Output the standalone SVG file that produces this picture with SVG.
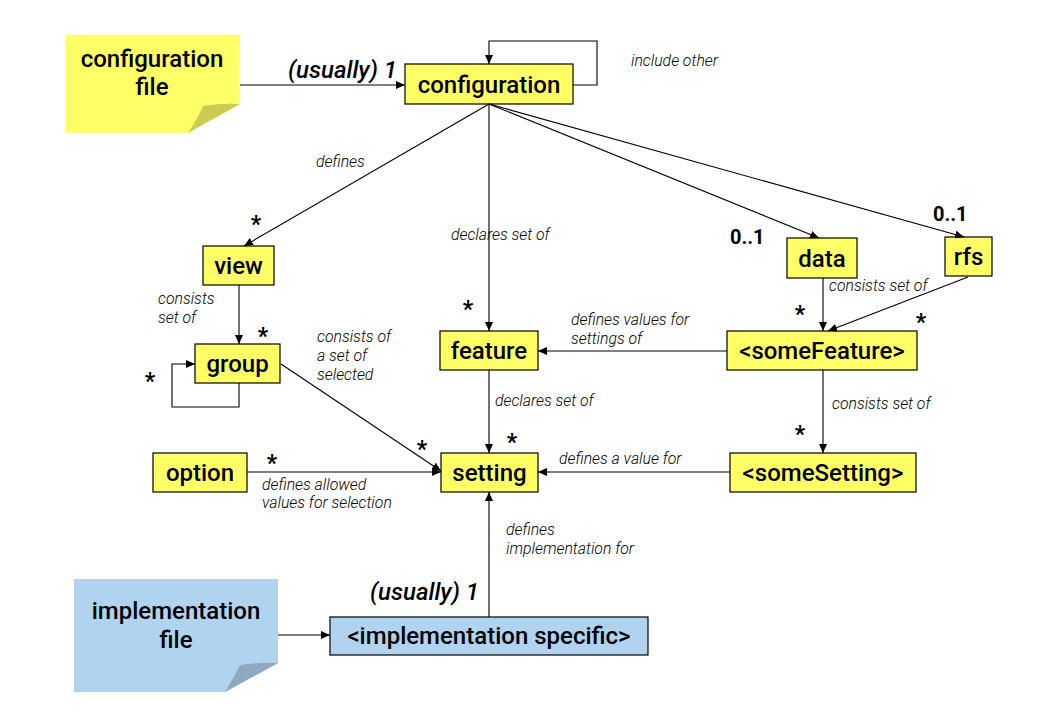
<svg xmlns="http://www.w3.org/2000/svg" width="1040" height="720" viewBox="0 0 1040 720">
<defs>
<marker id="ah" markerUnits="userSpaceOnUse" markerWidth="9" markerHeight="8" refX="9" refY="4" orient="auto">
<path d="M0,0 L9,4 L0,8 z" fill="#000"/>
</marker>
<style>
.box{stroke:#000;stroke-width:1.2}
.y{fill:#ffff66}
.b{fill:#b0d4ef}
.n{font-family:Roboto,"Liberation Sans",sans-serif;font-weight:500;font-size:24px;text-anchor:middle;fill:#000}
.lbl{font-family:Roboto,"Liberation Sans",sans-serif;font-style:italic;font-weight:300;font-size:15.8px;fill:#000}
.m{font-family:Roboto,"Liberation Sans",sans-serif;font-weight:700;font-size:20px;fill:#000}
.s{font-family:Roboto,"Liberation Sans",sans-serif;font-weight:700;font-size:23px;fill:#000;text-anchor:middle}
.u{font-family:Roboto,"Liberation Sans",sans-serif;font-style:italic;font-weight:500;font-size:24px;fill:#000;text-anchor:end}
.c{fill:none;stroke:#000;stroke-width:1.1;marker-end:url(#ah)}
</style>
</defs>
<rect width="1040" height="720" fill="#fff"/>

<g id="configuration-file">
<path d="M66,35 H240 V104 L188,133 H66 Z" fill="#ffff66"/>
<path d="M203,106 Q222,103 240,104 L188,133 Q198,118 203,106 Z" fill="#cccc55"/>
<text class="n" x="152" y="67">configuration</text>
<text class="n" x="152" y="95">file</text>
</g>

<g id="implementation-file">
<path d="M74,579 H278 V663 L225,692 H74 Z" fill="#b0d4ef"/>
<path d="M240,665 Q260,662 278,663 L225,692 Q234,677 240,665 Z" fill="#8fa9c1"/>
<text class="n" x="176" y="619">implementation</text>
<text class="n" x="176" y="648">file</text>
</g>

<g id="configuration"><rect class="box y" x="405" y="64" width="168" height="40"/><text class="n" x="489" y="93">configuration</text></g>
<g id="view"><rect class="box y" x="203" y="246" width="71" height="39"/><text class="n" x="238.5" y="274">view</text></g>
<g id="group"><rect class="box y" x="195" y="344" width="85" height="39"/><text class="n" x="237.5" y="372">group</text></g>
<g id="feature"><rect class="box y" x="440" y="331" width="98" height="39"/><text class="n" x="489" y="359">feature</text></g>
<g id="setting"><rect class="box y" x="441" y="453" width="97" height="39"/><text class="n" x="489.5" y="481">setting</text></g>
<g id="option"><rect class="box y" x="153" y="453" width="94" height="39"/><text class="n" x="200" y="481">option</text></g>
<g id="data"><rect class="box y" x="787" y="238" width="70" height="40"/><text class="n" x="822" y="267">data</text></g>
<g id="rfs"><rect class="box y" x="945" y="237" width="47" height="39"/><text class="n" x="968.5" y="265">rfs</text></g>
<g id="someFeature"><rect class="box y" x="727" y="331" width="190" height="39"/><text class="n" x="822" y="359">&lt;someFeature&gt;</text></g>
<g id="someSetting"><rect class="box y" x="730" y="453" width="186" height="39"/><text class="n" x="823" y="481">&lt;someSetting&gt;</text></g>
<g id="implementation-specific"><rect class="box b" x="330" y="617" width="318" height="38"/><text class="n" x="489" y="644">&lt;implementation specific&gt;</text></g>

<g id="connectors">
<path class="c" d="M240,85 H405"/>
<path class="c" d="M573,85 H597 V41 H489 V64"/>
<path class="c" d="M489,104 L244,246"/>
<path class="c" d="M489,104 V331"/>
<path class="c" d="M489,104 L819,238"/>
<path class="c" d="M489,104 L964,237"/>
<path class="c" d="M239,285 V344"/>
<path class="c" d="M239,383 V407 H172 V364 H195"/>
<path class="c" d="M281,364 L441,471"/>
<path class="c" d="M247,472 H441"/>
<path class="c" d="M489,370 V453"/>
<path class="c" d="M727,351 H538"/>
<path class="c" d="M823,278 V331"/>
<path class="c" d="M968,277 L828,331"/>
<path class="c" d="M823,370 V453"/>
<path class="c" d="M730,472 H538"/>
<path class="c" d="M489,617 V492"/>
<path class="c" d="M278,635 H330"/>
</g>

<g id="labels">
<text class="u" x="397" y="78">(usually) 1</text>
<text class="u" x="479" y="600">(usually) 1</text>
<text class="lbl" x="631" y="66">include other</text>
<text class="lbl" x="316" y="167">defines</text>
<text class="lbl" x="451" y="240">declares set of</text>
<text class="lbl" x="158" y="304">consists</text>
<text class="lbl" x="158" y="323">set of</text>
<text class="lbl" x="317" y="342">consists of</text>
<text class="lbl" x="317" y="361">a set of</text>
<text class="lbl" x="317" y="380">selected</text>
<text class="lbl" x="495" y="406">declares set of</text>
<text class="lbl" x="262" y="490">defines allowed</text>
<text class="lbl" x="262" y="508">values for selection</text>
<text class="lbl" x="571" y="325">defines values for</text>
<text class="lbl" x="571" y="344">settings of</text>
<text class="lbl" x="829" y="291">consists set of</text>
<text class="lbl" x="832" y="409">consists set of</text>
<text class="lbl" x="559" y="464">defines a value for</text>
<text class="lbl" x="506" y="535">defines</text>
<text class="lbl" x="506" y="554">implementation for</text>
<text class="m" x="730" y="244">0..1</text>
<text class="m" x="933" y="221">0..1</text>
<text class="s" x="256" y="232">*</text>
<text class="s" x="468" y="317">*</text>
<text class="s" x="263" y="344">*</text>
<text class="s" x="150" y="389">*</text>
<text class="s" x="512" y="450">*</text>
<text class="s" x="422" y="457">*</text>
<text class="s" x="272" y="471">*</text>
<text class="s" x="800" y="322">*</text>
<text class="s" x="921" y="330">*</text>
<text class="s" x="800" y="442">*</text>
</g>
</svg>
